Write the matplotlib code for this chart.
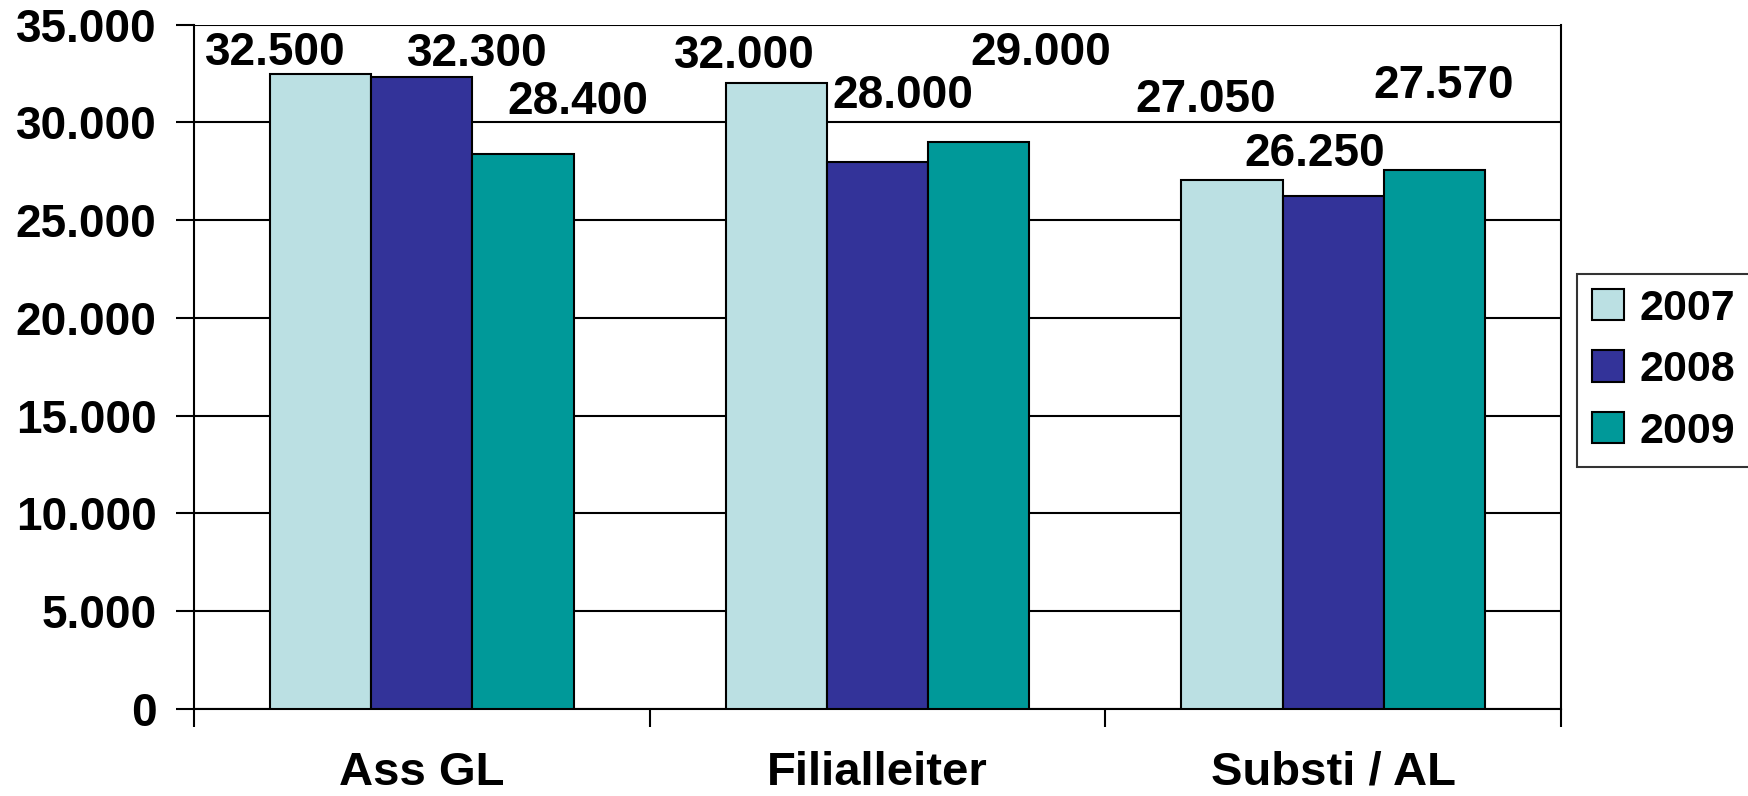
import matplotlib.pyplot as plt
import numpy as np
from matplotlib.ticker import FuncFormatter, FixedLocator

plt.rcParams['font.family'] = ['Liberation Sans', 'DejaVu Sans']
plt.rcParams['font.weight'] = 'bold'

# --- Data ---
categories = ['Ass GL', 'Filialleiter', 'Substi / AL']
years = ['2007', '2008', '2009']
values_2007 = [32500, 32000, 27050]
values_2008 = [32300, 28000, 26250]
values_2009 = [28400, 29000, 27570]
series = [values_2007, values_2008, values_2009]

colors = ['#BBE0E3', '#333399', '#009999']

# label offsets (pixels) from top-centre of each bar, as placed in the original
label_offsets = [
    [(-45, 21), (-32, 27), (-26, 80)],
    [(55, 23), (25, 66), (-18, 42)],
    [(55, 52), (62, 89), (9, 84)],
]

def de_fmt(v, pos=None):
    return f'{v:,.0f}'.replace(',', '.')

fig = plt.figure(figsize=(17.48, 7.96), dpi=100)
ax = fig.add_axes([0.111, 0.1093, 0.782, 0.8597])

x = np.arange(len(categories))
w = 0.222
for i, (vals, col, yr) in enumerate(zip(series, colors, years)):
    pos = x + (i - 1) * w
    bars = ax.bar(pos, vals, width=w, color=col, edgecolor='black', linewidth=1.5,
                  label=yr, zorder=3)
    for j, b in enumerate(bars):
        dx, dy = label_offsets[i][j]
        ax.annotate(de_fmt(vals[j]), (b.get_x() + b.get_width() / 2, b.get_height()),
                    xytext=(dx, dy), textcoords='offset pixels',
                    ha='center', va='center', fontsize=33, fontweight='bold')

ax.set_xlim(-0.5, 2.5)
ax.set_ylim(0, 35000)
ax.yaxis.set_major_locator(FixedLocator(np.arange(0, 35001, 5000)))
ax.yaxis.set_major_formatter(FuncFormatter(de_fmt))
ax.grid(axis='y', color='black', linewidth=1.5, zorder=0)

ax.xaxis.set_major_locator(FixedLocator([-0.5, 0.5, 1.5, 2.5]))
ax.xaxis.set_major_formatter(FuncFormatter(lambda v, p: ''))
ax.set_xticks(x, categories, minor=True)
ax.tick_params(axis='x', which='major', length=13, width=1.5, direction='out')
ax.tick_params(axis='x', which='minor', length=0, pad=30, labelsize=34)
ax.tick_params(axis='y', length=13, width=1.5, direction='out', pad=14, labelsize=33)

for s in ['left', 'bottom', 'right']:
    ax.spines[s].set_linewidth(1.5)
    ax.spines[s].set_color('black')
ax.spines['top'].set_visible(False)

leg = ax.legend(loc='center left', bbox_to_anchor=(0.902, 0.535),
                bbox_transform=fig.transFigure, fontsize=31, frameon=True,
                fancybox=False, edgecolor='black', handlelength=0.75,
                handleheight=0.75, handletextpad=0.35, labelspacing=0.5,
                borderpad=0.35, borderaxespad=0)
leg.get_frame().set_linewidth(1.5)
for t in leg.get_texts():
    t.set_fontweight('bold')

fig.savefig('out.png', dpi=100)
